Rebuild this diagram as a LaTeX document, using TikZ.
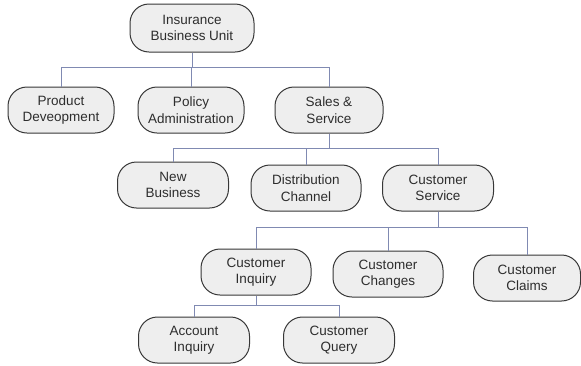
\documentclass[tikz,border=0pt]{standalone}
\usepackage{fontspec}
\setmainfont{Liberation Sans}
\definecolor{boxline}{RGB}{55,55,55}
\definecolor{boxfill}{RGB}{238,238,238}
\definecolor{linkc}{RGB}{128,138,178}
\definecolor{txt}{RGB}{45,45,45}
\tikzset{
  unit/.style={draw=boxline, line width=1pt, fill=boxfill, rounded corners=19pt,
    minimum width=108pt, minimum height=46pt, align=center, inner sep=2pt,
    text=txt, font=\fontsize{13.5}{16.5}\selectfont},
  link/.style={draw=linkc, line width=1pt}
}
\begin{document}
\begin{tikzpicture}[x=1pt,y=1pt]
\useasboundingbox (0,0) rectangle (581,-365);
% level 1
\node[unit, minimum width=124pt, minimum height=48pt] (ibu) at (192,-28) {Insurance\\Business Unit};
% level 2
\node[unit, minimum width=106pt] (pd) at (61,-110) {Product\\Deveopment};
\node[unit, minimum width=106pt] (pa) at (191,-110) {Policy\\Administration};
\node[unit] (ss) at (329,-110) {Sales \&\\Service};
% level 3
\node[unit, minimum width=111pt] (nb) at (173,-185) {New\\Business};
\node[unit, minimum width=110pt] (dc) at (306,-188) {Distribution\\Channel};
\node[unit, minimum width=111pt] (cs) at (438,-188) {Customer\\Service};
% level 4
\node[unit, minimum width=110pt] (ci) at (256,-272) {Customer\\Inquiry};
\node[unit, minimum width=110pt] (cc) at (388,-274) {Customer\\Changes};
\node[unit, minimum width=107pt] (cl) at (527,-278) {Customer\\Claims};
% level 5
\node[unit, minimum width=111pt] (ai) at (194,-340) {Account\\Inquiry};
\node[unit, minimum width=111pt] (cq) at (339,-340) {Customer\\Query};
% buses
\coordinate (b1) at (0,-67);
\coordinate (b2) at (0,-148);
\coordinate (b3) at (0,-227);
\coordinate (b4) at (0,-305);
% connectors
\foreach \c in {pd,pa,ss} \draw[link] (ibu.south) |- (\c.north |- b1) -- (\c.north);
\foreach \c in {nb,dc,cs} \draw[link] (ss.south) |- (\c.north |- b2) -- (\c.north);
\foreach \c in {ci,cc,cl} \draw[link] (cs.south) |- (\c.north |- b3) -- (\c.north);
\foreach \c in {ai,cq} \draw[link] (ci.south) |- (\c.north |- b4) -- (\c.north);
\end{tikzpicture}
\end{document}
